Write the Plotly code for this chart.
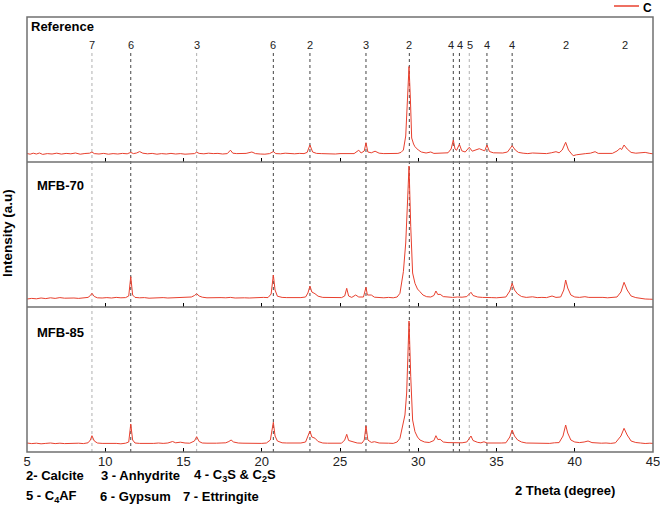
import plotly.graph_objects as go
from plotly.subplots import make_subplots

# ---------------- data (2θ, intensity) ----------------
REF_PATTERN = [
    (5.0, 85), (5.2, 78), (5.4, 88), (5.6, 80), (5.8, 90), (6.0, 76), (6.3, 84), (6.6, 80), (6.9, 88),
    (7.2, 79), (7.5, 86), (7.8, 82), (8.1, 90), (8.4, 78), (8.7, 85), (9.0, 88), (9.15, 100), (9.3, 84),
    (9.6, 80), (9.9, 86), (10.2, 78), (10.5, 84), (10.8, 80), (11.1, 86), (11.4, 82), (11.63, 96),
    (11.8, 84), (12.0, 90), (12.2, 104), (12.4, 88), (12.7, 82), (13.0, 86), (13.3, 78), (13.6, 84),
    (13.9, 80), (14.2, 86), (14.5, 80), (14.8, 84), (15.1, 78), (15.4, 82), (15.7, 84), (15.84, 98),
    (16.0, 86), (16.3, 82), (16.6, 88), (16.9, 84), (17.2, 86), (17.5, 80), (17.8, 84), (18.0, 118),
    (18.15, 88), (18.4, 84), (18.7, 82), (19.0, 86), (19.37, 100), (19.6, 84), (19.9, 80), (20.2, 78),
    (20.5, 84), (20.74, 104), (20.9, 84), (21.2, 82), (21.5, 88), (21.8, 84), (22.1, 82), (22.4, 86),
    (22.7, 84), (22.9, 96), (23.08, 170), (23.25, 100), (23.5, 86), (23.8, 84), (24.1, 82), (24.4, 86),
    (24.7, 80), (25.0, 84), (25.3, 82), (25.6, 86), (25.9, 84), (26.2, 118), (26.35, 90), (26.55, 110),
    (26.66, 193), (26.78, 100), (27.0, 92), (27.24, 108), (27.5, 88), (27.8, 84), (28.1, 86), (28.4, 82),
    (28.7, 86), (28.9, 96), (29.05, 120), (29.2, 260), (29.3, 600), (29.41, 955), (29.5, 620),
    (29.58, 240), (29.7, 180), (29.79, 153), (30.0, 120), (30.2, 100), (30.5, 90), (30.8, 100),
    (31.0, 86), (31.3, 88), (31.6, 84), (31.9, 92), (32.1, 130), (32.24, 220), (32.35, 130),
    (32.45, 118), (32.63, 177), (32.78, 112), (33.0, 100), (33.26, 147), (33.45, 108), (33.7, 118),
    (33.9, 133), (34.1, 120), (34.25, 112), (34.39, 170), (34.55, 105), (34.8, 92), (35.1, 88),
    (35.4, 90), (35.7, 100), (35.85, 130), (36.0, 163), (36.2, 120), (36.4, 96), (36.7, 88), (37.0, 84),
    (37.3, 90), (37.6, 86), (37.9, 88), (38.2, 84), (38.5, 92), (38.8, 103), (39.0, 92), (39.2, 120),
    (39.42, 197), (39.6, 120), (39.75, 90), (39.9, 63), (40.1, 72), (40.4, 80), (40.7, 84), (41.0, 88),
    (41.3, 103), (41.5, 86), (41.8, 84), (42.1, 88), (42.4, 86), (42.7, 110), (42.9, 137), (43.0, 125),
    (43.15, 170), (43.35, 130), (43.6, 96), (43.9, 88), (44.2, 92), (44.5, 96), (44.8, 86), (45.0, 82),
]

MFB70_PATTERN = [
    (5.0, 80), (5.3, 86), (5.6, 82), (5.9, 90), (6.2, 84), (6.5, 92), (6.8, 86), (7.1, 94), (7.4, 88),
    (7.7, 92), (8.0, 90), (8.3, 86), (8.6, 92), (8.9, 96), (9.05, 115), (9.15, 137), (9.3, 105),
    (9.5, 92), (9.8, 90), (10.1, 94), (10.4, 90), (10.7, 96), (11.0, 92), (11.3, 94), (11.5, 110),
    (11.63, 303), (11.75, 120), (11.9, 96), (12.2, 92), (12.5, 94), (12.8, 88), (13.1, 92), (13.4, 90),
    (13.7, 94), (14.0, 90), (14.3, 92), (14.6, 88), (14.9, 94), (15.2, 92), (15.5, 100), (15.7, 115),
    (15.84, 133), (16.0, 110), (16.2, 98), (16.5, 92), (16.8, 94), (17.1, 90), (17.4, 94), (17.7, 92),
    (18.0, 96), (18.3, 90), (18.6, 94), (18.9, 92), (19.2, 90), (19.5, 94), (19.8, 92), (20.1, 96),
    (20.4, 94), (20.6, 130), (20.74, 320), (20.85, 170), (21.0, 108), (21.3, 96), (21.6, 94), (21.9, 92),
    (22.2, 96), (22.5, 94), (22.8, 100), (22.95, 140), (23.08, 210), (23.2, 150), (23.4, 133),
    (23.6, 108), (23.9, 96), (24.2, 94), (24.5, 92), (24.8, 96), (25.1, 94), (25.3, 110), (25.43, 187),
    (25.55, 110), (25.75, 96), (26.0, 120), (26.2, 100), (26.5, 100), (26.6, 150), (26.66, 197),
    (26.75, 120), (27.0, 120), (27.2, 98), (27.5, 94), (27.8, 92), (28.1, 96), (28.4, 92), (28.65, 100),
    (28.83, 137), (29.05, 353), (29.2, 640), (29.3, 1000), (29.41, 1410), (29.52, 803), (29.64, 340),
    (29.79, 237), (29.95, 180), (30.11, 153), (30.3, 120), (30.54, 103), (30.8, 100), (31.0, 115),
    (31.13, 160), (31.25, 125), (31.4, 127), (31.6, 104), (31.9, 100), (32.2, 96), (32.5, 100),
    (32.8, 98), (33.1, 104), (33.25, 125), (33.37, 147), (33.5, 115), (33.8, 100), (34.1, 96),
    (34.4, 92), (34.7, 94), (35.0, 92), (35.3, 96), (35.6, 100), (35.85, 160), (36.0, 237),
    (36.15, 170), (36.35, 130), (36.6, 105), (36.9, 96), (37.3, 102), (37.6, 94), (37.9, 96), (38.2, 94),
    (38.55, 110), (38.8, 96), (39.1, 100), (39.3, 170), (39.42, 270), (39.55, 190), (39.75, 120),
    (40.0, 100), (40.3, 96), (40.65, 103), (40.9, 96), (41.2, 98), (41.5, 94), (41.8, 96), (42.1, 92),
    (42.4, 94), (42.7, 100), (42.95, 150), (43.15, 247), (43.35, 170), (43.6, 110), (43.9, 94),
    (44.2, 86), (44.5, 80), (44.8, 78), (45.0, 77),
]

MFB85_PATTERN = [
    (5.0, 90), (5.3, 84), (5.6, 88), (5.9, 82), (6.2, 86), (6.5, 90), (6.8, 84), (7.1, 88), (7.4, 84),
    (7.7, 86), (8.0, 82), (8.3, 88), (8.6, 84), (8.9, 92), (9.05, 120), (9.15, 163), (9.3, 110),
    (9.5, 90), (9.8, 86), (10.1, 88), (10.4, 84), (10.7, 86), (11.0, 82), (11.3, 88), (11.5, 100),
    (11.63, 280), (11.75, 120), (11.9, 90), (12.2, 86), (12.5, 84), (12.8, 88), (13.1, 86), (13.4, 90),
    (13.7, 86), (14.0, 90), (14.3, 105), (14.5, 92), (14.8, 98), (15.1, 90), (15.4, 88), (15.7, 110),
    (15.84, 153), (16.0, 105), (16.2, 90), (16.5, 88), (16.8, 86), (17.1, 88), (17.4, 90), (17.7, 92),
    (17.9, 105), (18.04, 120), (18.2, 100), (18.5, 90), (18.8, 88), (19.1, 86), (19.4, 90), (19.7, 88),
    (20.0, 86), (20.3, 90), (20.55, 120), (20.74, 297), (20.85, 160), (21.0, 110), (21.3, 92), (21.6, 90),
    (21.9, 88), (22.2, 86), (22.5, 90), (22.8, 100), (22.95, 150), (23.08, 210), (23.2, 150),
    (23.4, 138), (23.6, 105), (23.9, 90), (24.2, 88), (24.5, 86), (24.8, 90), (25.1, 88), (25.3, 120),
    (25.43, 177), (25.55, 115), (25.8, 100), (26.1, 90), (26.4, 88), (26.55, 120), (26.66, 260),
    (26.78, 120), (27.0, 96), (27.2, 103), (27.5, 90), (27.8, 86), (28.1, 88), (28.4, 86), (28.65, 100),
    (28.83, 137), (29.05, 320), (29.15, 370), (29.26, 590), (29.41, 1310), (29.52, 753), (29.64, 320),
    (29.79, 203), (29.95, 150), (30.11, 120), (30.4, 100), (30.7, 95), (31.0, 115), (31.13, 163),
    (31.25, 125), (31.4, 127), (31.6, 100), (31.9, 94), (32.2, 92), (32.5, 96), (32.8, 92), (33.1, 100),
    (33.25, 130), (33.37, 160), (33.5, 115), (33.8, 96), (34.0, 92), (34.2, 102), (34.4, 90), (34.7, 88),
    (35.0, 86), (35.3, 90), (35.6, 92), (35.85, 150), (36.0, 220), (36.15, 160), (36.35, 120),
    (36.6, 100), (36.9, 90), (37.2, 88), (37.5, 86), (37.8, 90), (38.1, 88), (38.4, 86), (38.7, 92),
    (39.0, 94), (39.25, 160), (39.42, 270), (39.55, 190), (39.75, 120), (40.0, 100), (40.3, 94),
    (40.6, 100), (40.85, 110), (41.1, 94), (41.4, 90), (41.7, 88), (42.0, 90), (42.3, 86), (42.6, 92),
    (42.95, 160), (43.15, 237), (43.35, 170), (43.6, 110), (43.9, 95), (44.2, 90), (44.5, 85),
    (44.8, 88), (45.0, 86),
]

SAMPLE_NAMES = ["Reference", "MFB-70", "MFB-85"]

# phase marker lines
LINE_POS = [9.15, 11.63, 15.84, 20.74, 23.08, 26.66, 29.43, 32.24, 32.63, 33.26, 34.39, 36.0]
LINE_LIGHT = [True, False, True, False, False, False, False, False, False, True, False, False]
# phase labels above lines
LABEL_TEXT = ["7", "6", "3", "6", "2", "3", "2", "4", "4", "5", "4", "4", "2", "2"]
LABEL_POS = [9.15, 11.63, 15.84, 20.74, 23.08, 26.66, 29.43, 32.08, 32.66, 33.3, 34.39, 36.0, 39.42, 43.2]

X_TICKS = [5, 10, 15, 20, 25, 30, 35, 40, 45]

LEGEND_ROW1 = ["2- Calcite", "3 - Anhydrite", "4 - C<sub>3</sub>S & C<sub>2</sub>S"]
LEGEND_ROW2 = ["5 - C<sub>4</sub>AF", "6 - Gypsum", "7 - Ettringite"]

# ---------------- figure ----------------
W, H = 660, 505
ML, MR, MT, MB = 27, 7, 17, 53
PW, PH = W - ML - MR, H - MT - MB
FONT = "Liberation Sans, Arial, sans-serif"
RED = "#e8402e"
BORDER = "#707070"


def px_x(px):
    return (px - ML) / PW


def px_y(py):
    return (H - MB - py) / PH


fig = make_subplots(rows=3, cols=1, shared_xaxes=True, vertical_spacing=0)
for row, pat in enumerate([REF_PATTERN, MFB70_PATTERN, MFB85_PATTERN], start=1):
    xs = [p[0] for p in pat]
    ys = [p[1] for p in pat]
    fig.add_trace(go.Scatter(x=xs, y=ys, mode="lines", line=dict(color=RED, width=1),
                             name="C", showlegend=False), row=row, col=1)

for row in range(1, 4):
    fig.update_xaxes(range=[5, 45], tickvals=X_TICKS, ticks="inside", ticklen=4, tickwidth=1,
                     tickcolor="black", showgrid=False, zeroline=False, showline=False,
                     automargin=False,
                     tickfont=dict(family=FONT, size=13, color="#222"), row=row, col=1)
    fig.update_yaxes(range=[0, 1450], visible=False, showgrid=False, zeroline=False,
                     automargin=False, row=row, col=1)
fig.update_xaxes(showticklabels=True, ticklabelstandoff=0, ticklabeloverflow="allow", row=3, col=1)

shapes = []
# frame and panel separators
shapes.append(dict(type="rect", xref="paper", yref="paper", x0=0, x1=1, y0=0, y1=1,
                   line=dict(color=BORDER, width=1.5)))
for yy in [1 / 3, 2 / 3]:
    shapes.append(dict(type="line", xref="paper", yref="paper", x0=0, x1=1, y0=yy, y1=yy,
                       line=dict(color=BORDER, width=1.5)))
# phase lines
for xp, light in zip(LINE_POS, LINE_LIGHT):
    shapes.append(dict(type="line", xref="x3", yref="paper", x0=xp, x1=xp, y0=0, y1=px_y(50),
                       line=dict(color="#b0b0b0" if light else "#444", width=1, dash="dot"),
                       layer="below"))
# legend line
shapes.append(dict(type="line", xref="paper", yref="paper", x0=px_x(614), x1=px_x(639),
                   y0=px_y(6), y1=px_y(6), line=dict(color=RED, width=1.5)))

ann = []
for t, xp in zip(LABEL_TEXT, LABEL_POS):
    ann.append(dict(x=xp, xref="x3", y=px_y(45), yref="paper", text=t, showarrow=False,
                    font=dict(family=FONT, size=11, color="#222"), xanchor="center", yanchor="middle"))
for name, (xpx, ypx) in zip(SAMPLE_NAMES, [(29, 27), (35, 185), (35, 332)]):
    ann.append(dict(x=px_x(xpx), xref="paper", y=px_y(ypx), yref="paper", text="<b>%s</b>" % name,
                    showarrow=False, font=dict(family=FONT, size=13, color="black"),
                    xanchor="left", yanchor="middle"))
ann.append(dict(x=px_x(7), xref="paper", y=px_y(233), yref="paper", text="<b>Intensity (a.u)</b>",
                textangle=-90, showarrow=False, font=dict(family=FONT, size=13.5, color="black"),
                xanchor="center", yanchor="middle"))
ann.append(dict(x=px_x(642), xref="paper", y=px_y(0), yref="paper", text="<b>C</b>", showarrow=False,
                font=dict(family=FONT, size=12, color="black"), xanchor="left", yanchor="top",
                borderpad=0))
ann.append(dict(x=px_x(565), xref="paper", y=px_y(490), yref="paper", text="<b>2 Theta (degree)</b>",
                showarrow=False, font=dict(family=FONT, size=13, color="black"),
                xanchor="center", yanchor="middle"))
for items, xs_px, ypx in [(LEGEND_ROW1, [25, 100, 193], 475), (LEGEND_ROW2, [25, 99, 182], 496)]:
    for t, xpx in zip(items, xs_px):
        ann.append(dict(x=px_x(xpx), xref="paper", y=px_y(ypx), yref="paper", text="<b>%s</b>" % t,
                        showarrow=False, font=dict(family=FONT, size=13, color="black"),
                        xanchor="left", yanchor="middle", borderpad=0))

fig.update_layout(width=W, height=H, margin=dict(l=ML, r=MR, t=MT, b=MB, autoexpand=False),
                  paper_bgcolor="white", plot_bgcolor="white", showlegend=False,
                  shapes=shapes, annotations=ann)

fig.write_html("out.html")
